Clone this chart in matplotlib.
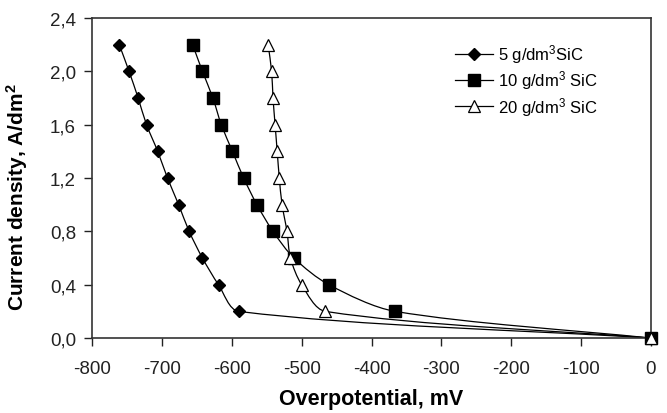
import matplotlib
matplotlib.use('Agg')
import numpy as np
import matplotlib.pyplot as plt
from matplotlib.path import Path
from matplotlib.patches import PathPatch
from matplotlib.lines import Line2D
from matplotlib.transforms import IdentityTransform

plt.rcParams['font.family'] = ['Liberation Sans', 'DejaVu Sans']
plt.rcParams['mathtext.fontset'] = 'custom'
plt.rcParams['mathtext.rm'] = 'Liberation Sans'
plt.rcParams['mathtext.bf'] = 'Liberation Sans:bold'
plt.rcParams['mathtext.default'] = 'regular'

# current density values, A/dm2
current = [2.2, 2.0, 1.8, 1.6, 1.4, 1.2, 1.0, 0.8, 0.6, 0.4, 0.2, 0.0]
# overpotential, mV
eta_5 = [-761, -747, -734, -722, -706, -692, -676, -661, -642, -619, -590, 0]
eta_10 = [-656, -642, -627, -615, -599, -583, -564, -541, -511, -461, -366, 0]
eta_20 = [-548, -543, -541, -538, -535, -532, -528, -521, -516, -500, -466, 0]

labels = ['5 g/dm$^3$SiC', '10 g/dm$^3$ SiC', '20 g/dm$^3$ SiC']
xticks = [-800, -700, -600, -500, -400, -300, -200, -100, 0]
yticks = [0.0, 0.4, 0.8, 1.2, 1.6, 2.0, 2.4]


# smoothed line like the spreadsheet one, done in screen space
# (tangent direction from neighbours, handle length tied to the segment so it never overshoots)
def smooth_line(ax, x, y, lw, k=0.3):
    p = ax.transData.transform(np.column_stack([x, y]))
    n = len(p)
    tang = []
    for i in range(n):
        a = p[i - 1] if i > 0 else p[i]
        b = p[i + 1] if i + 1 < n else p[i]
        d = b - a
        tang.append(d / np.hypot(*d))
    verts = [p[0]]
    codes = [Path.MOVETO]
    for i in range(n - 1):
        seg = np.hypot(*(p[i + 1] - p[i]))
        c1 = p[i] + tang[i] * seg * k
        c2 = p[i + 1] - tang[i + 1] * seg * k
        verts += [c1, c2, p[i + 1]]
        codes += [Path.CURVE4] * 3
    patch = PathPatch(Path(verts, codes), transform=IdentityTransform(),
                      fill=False, edgecolor='black', lw=lw, zorder=2)
    ax.add_artist(patch)


fig = plt.figure(figsize=(6.67, 4.14), dpi=100)
ax = fig.add_axes([0.138, 0.181, 0.838, 0.773])
ax.set_xlim(-800, 0)
ax.set_ylim(0, 2.4)

styles = [
    dict(marker='D', ms=6, mfc='black', mec='black'),
    dict(marker='s', ms=8, mfc='black', mec='black'),
    dict(marker='^', ms=8, mfc='white', mec='black', mew=0.9),
]
handles = []
for xs, st, lab in zip([eta_5, eta_10, eta_20], styles, labels):
    smooth_line(ax, xs, current, 0.9)
    ax.plot(xs, current, ls='none', clip_on=False, zorder=3, **st)
    handles.append(Line2D([], [], color='black', lw=0.9, label=lab, **st))

ax.set_xticks(xticks)
ax.set_yticks(yticks)
ax.set_xticklabels([str(v) for v in xticks], fontsize=13.5)
ax.set_yticklabels([('%.1f' % v).replace('.', ',') for v in yticks], fontsize=13.5)
ax.tick_params(direction='out', length=5.5, width=1, colors='#222222')
ax.tick_params(axis='x', pad=10)
ax.tick_params(axis='y', pad=6)
for s in ax.spines.values():
    s.set_color('#333333')
    s.set_linewidth(1.2)

ax.set_xlabel('Overpotential, mV', fontsize=15.5, fontweight='bold', labelpad=8)
ax.set_ylabel('Current density, A/dm$^\\mathbf{2}$', fontsize=15, fontweight='bold')
ax.yaxis.set_label_coords(-0.111, 0.444)

ax.legend(handles=handles, loc='upper left', bbox_to_anchor=(0.637, 0.945), frameon=False,
          fontsize=12, handlelength=2.3, handletextpad=0.3, labelspacing=0.2,
          borderaxespad=0)

fig.savefig('out.png', dpi=100)
